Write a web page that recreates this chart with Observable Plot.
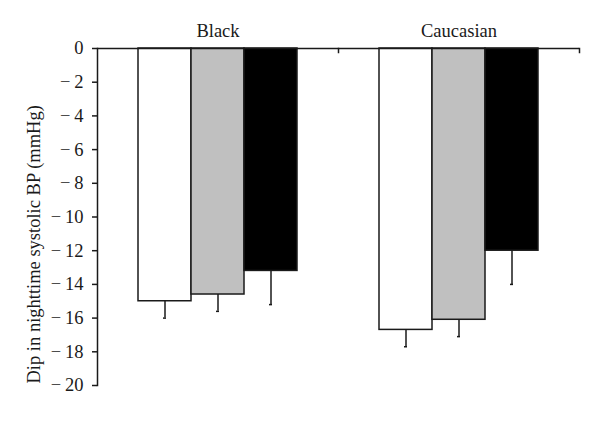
<!DOCTYPE html>
<html><head><meta charset="utf-8">
<script src="https://cdn.jsdelivr.net/npm/d3@7"></script>
<script src="https://cdn.jsdelivr.net/npm/@observablehq/plot@0.6"></script>
<style>body{margin:0;background:#fff}</style>
</head><body><div id="chart"></div>
<script>
const groups = ["Black", "Caucasian"];
const series = ["Series 1", "Series 2", "Series 3"];
const fills = ["#ffffff", "#c0c0c0", "#000000"];
const blackMeans = [-15.0, -14.6, -13.2];
const blackErrors = [1.0, 1.0, 2.0];
const caucasianMeans = [-16.7, -16.1, -12.0];
const caucasianErrors = [1.0, 1.0, 2.0];
const yTicks = [0, -2, -4, -6, -8, -10, -12, -14, -16, -18, -20];
const yLabel = "Dip in nighttime systolic BP (mmHg)";

const means = [blackMeans, caucasianMeans];
const errors = [blackErrors, caucasianErrors];
const data = [];
groups.forEach((g, gi) => series.forEach((s, si) => data.push({group: g, series: s, mean: means[gi][si], err: errors[gi][si]})));

const ink = "#1a1a1a";
const serif = "'Liberation Serif', 'DejaVu Serif', serif";
const fs = 18.5;
const chart = Plot.plot({
  width: 600, height: 429,
  marginLeft: 97, marginRight: 21, marginTop: 48, marginBottom: 44,
  style: {fontFamily: serif, fontSize: fs + "px", color: ink, background: "#fff"},
  fx: {domain: groups, padding: 0},
  x: {domain: series, paddingInner: 0, paddingOuter: 0.745, axis: null},
  y: {domain: [-20, 0]},
  color: {domain: series, range: fills},
  marks: [
    Plot.barY(data, {fx: "group", x: "series", y: "mean", fill: "series", stroke: ink, strokeWidth: 1.5}),
    Plot.ruleX(data, {fx: "group", x: "series", y1: "mean", y2: d => d.mean - d.err, stroke: ink, strokeWidth: 1.5}),
    Plot.tickY(data, {fx: "group", x: "series", y: d => d.mean - d.err, insetLeft: 25, insetRight: 25, stroke: ink, strokeWidth: 1.5}),
    Plot.ruleY([0], {stroke: ink, strokeWidth: 1.5}),
    Plot.frame({anchor: "right", insetBottom: 333, stroke: ink, strokeWidth: 1.5}),
    Plot.frame({anchor: "left", facetAnchor: "left", stroke: ink, strokeWidth: 1.5}),
    Plot.axisY({ticks: yTicks, tickFormat: d => d < 0 ? "\u2212\u2009" + (-d) : String(d), tickSize: 5, tickPadding: 9,
      stroke: ink, strokeWidth: 1.5, fontFamily: serif, fontSize: fs, fontVariant: "normal", fill: ink, label: null}),
    Plot.text([yLabel], {frameAnchor: "bottom-left", facetAnchor: "left", rotate: -90, textAnchor: "start", lineAnchor: "middle",
      dx: -63, dy: -2, fontFamily: serif, fontSize: fs, fill: ink}),
    Plot.axisFx({anchor: "top", tickSize: 0, tickPadding: 12, label: null, fontFamily: serif, fontSize: fs, fill: ink})
  ]
});
document.getElementById("chart").appendChild(chart);
</script>
</body></html>
